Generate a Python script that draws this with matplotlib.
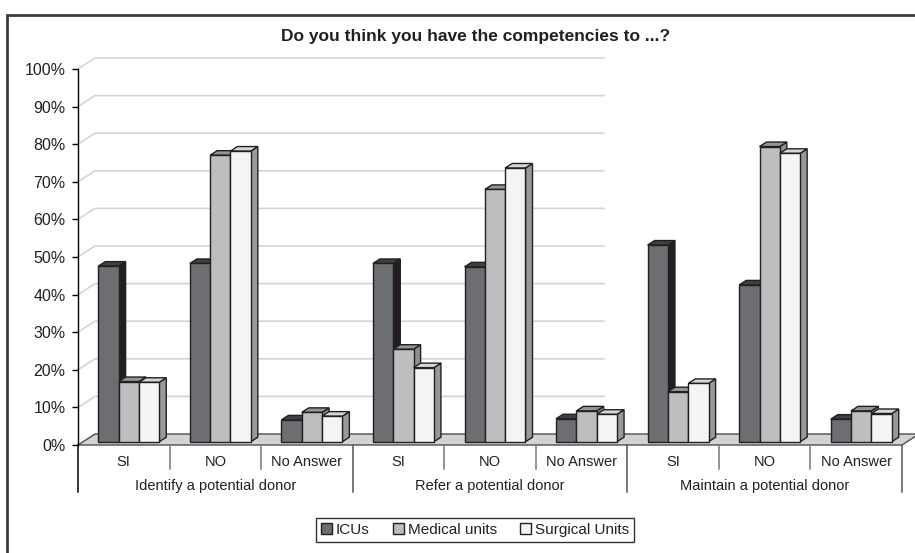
import matplotlib
matplotlib.use("Agg")
import matplotlib.pyplot as plt
from matplotlib.patches import Polygon, Patch, Rectangle
from matplotlib.lines import Line2D
from matplotlib.transforms import IdentityTransform, offset_copy
import numpy as np

plt.rcParams['font.family'] = ['Liberation Sans', 'DejaVu Sans']

# ---- data ----
title = "Do you think you have the competencies to ...?"
answers = ["SI", "NO", "No Answer"]
groups = ["Identify a potential donor", "Refer a potential donor", "Maintain a potential donor"]
series_names = ["ICUs", "Medical units", "Surgical Units"]
icu = [46.7, 47.4, 5.8, 47.4, 46.5, 6.1, 52.3, 41.7, 6.0]
medical = [16.0, 76.2, 7.8, 24.6, 67.1, 8.2, 13.3, 78.5, 8.2]
surgical = [15.8, 77.3, 6.8, 19.7, 72.8, 7.3, 15.5, 76.7, 7.5]
yticks = [0, 10, 20, 30, 40, 50, 60, 70, 80, 90, 100]

# ---- style ----
front_cols = ["#6d6e71", "#bcbec0", "#f4f4f4"]
side_cols = ["#231f20", "#8d8f92", "#97999c"]
top_cols = ["#404042", "#939598", "#d6d7d8"]
edge = "#231f20"

W, H = 915, 553
fig = plt.figure(figsize=(W / 100, H / 100), dpi=100)
ax = fig.add_axes([78 / W, 108 / H, 824 / W, 376 / H])
ncat = len(answers) * len(groups)
ax.set_xlim(0, ncat)
ax.set_ylim(0, 100)
for s in ["top", "right", "bottom"]:
    ax.spines[s].set_visible(False)
ax.spines["left"].set_color("black")
ax.spines["left"].set_linewidth(1.0)
ax.set_xticks([])
ax.set_yticks(yticks)
ax.set_yticklabels([f"{v}%" for v in yticks], fontsize=11.5, color="#231f20")
ax.tick_params(axis="y", direction="out", length=4, width=1, pad=5, color="black")
ax.patch.set_visible(False)

T = ax.transData
ident = IdentityTransform()

def P(x, y, dx=0.0, dy=0.0):
    px, py = T.transform((x, y))
    return (px + dx, py + dy)

WALL = (17, 11)      # back wall offset in pixels
FRONT = (5, 3.3)     # bar front-face offset in pixels
DEPTH = (7, 4.5)     # bar depth in pixels
GRID_END_PX = 604    # gridlines end (pixels)

# floor
floor = Polygon([P(0, 0), P(ncat, 0), P(ncat, 0, *WALL), P(0, 0, *WALL)],
                closed=True, transform=ident, facecolor="#d3d3d3",
                edgecolor="#4d4d4d", lw=1, zorder=1, clip_on=False)
ax.add_patch(floor)

# gridlines on back wall + side wall slants
for v in yticks[1:]:
    x0, y0 = P(0, v)
    ax.add_line(Line2D([x0, x0 + WALL[0], GRID_END_PX], [y0, y0 + WALL[1], y0 + WALL[1]],
                       transform=ident, color="#d4d4d4", lw=1.2, zorder=0.5, clip_on=False))

# bars
w = 0.222
vals = [icu, medical, surgical]
k = 0
for i in range(ncat):
    center = i + 0.5
    for s in range(3):
        x0 = center - 1.5 * w + s * w
        x1 = x0 + w
        v = vals[s][i]
        z = 3 + k * 0.01
        k += 1
        fx, fy = FRONT
        dx, dy = DEPTH
        side = Polygon([P(x1, 0, fx, fy), P(x1, v, fx, fy), P(x1, v, fx + dx, fy + dy),
                        P(x1, 0, fx + dx, fy + dy)], closed=True, transform=ident,
                       facecolor=side_cols[s], edgecolor=edge, lw=1, zorder=z, clip_on=False)
        top = Polygon([P(x0, v, fx, fy), P(x1, v, fx, fy), P(x1, v, fx + dx, fy + dy),
                       P(x0, v, fx + dx, fy + dy)], closed=True, transform=ident,
                      facecolor=top_cols[s], edgecolor=edge, lw=1, zorder=z, clip_on=False)
        front = Polygon([P(x0, 0, fx, fy), P(x1, 0, fx, fy), P(x1, v, fx, fy), P(x0, v, fx, fy)],
                        closed=True, transform=ident, facecolor=front_cols[s],
                        edgecolor=edge, lw=1, zorder=z + 0.001, clip_on=False)
        ax.add_patch(side)
        ax.add_patch(top)
        ax.add_patch(front)

# category axis: labels and separators
for i in range(ncat):
    tr = offset_copy(T, fig=fig, x=0, y=-17, units="dots")
    ax.text(i + 0.5, 0, answers[i % 3], transform=tr, ha="center", va="center",
            fontsize=10.5, color="#231f20")
for g in range(len(groups)):
    tr = offset_copy(T, fig=fig, x=0, y=-41, units="dots")
    ax.text(3 * g + 1.5, 0, groups[g], transform=tr, ha="center", va="center",
            fontsize=10.5, color="#231f20")
for b in range(ncat + 1):
    x, y = P(b, 0)
    if b % 3 == 0:
        col = "black" if b == 0 else "#555555"
        ax.add_line(Line2D([x, x], [y, y - 47], transform=ident, color=col, lw=1.1,
                           clip_on=False, zorder=2))
    else:
        ax.add_line(Line2D([x, x], [y, y - 24], transform=ident, color="#777777", lw=1.1,
                           clip_on=False, zorder=2))

# title
fig.text(476 / W, 1 - 37 / H, title, ha="center", va="center", fontsize=12.5,
         fontweight="bold", color="#231f20")

# legend
handles = [Patch(facecolor=front_cols[s], edgecolor=edge, lw=1) for s in range(3)]
leg = fig.legend(handles, series_names, loc="center", bbox_to_anchor=(475 / W, 1 - 530 / H),
                 ncol=3, fontsize=11, frameon=True, fancybox=False, handlelength=0.75,
                 handleheight=0.75, handletextpad=0.25, columnspacing=1.5, borderpad=0.3)
leg.get_frame().set_edgecolor("black")
leg.get_frame().set_linewidth(1)
for t in leg.get_texts():
    t.set_color("#231f20")

# outer frame (left and top visible)
fig.patches.append(Rectangle((7 / W, -0.1), 1.2, 1.1 - 15 / H, transform=fig.transFigure,
                             fill=False, edgecolor="#3c3c3c", lw=2))

fig.savefig("out.png", dpi=100)
